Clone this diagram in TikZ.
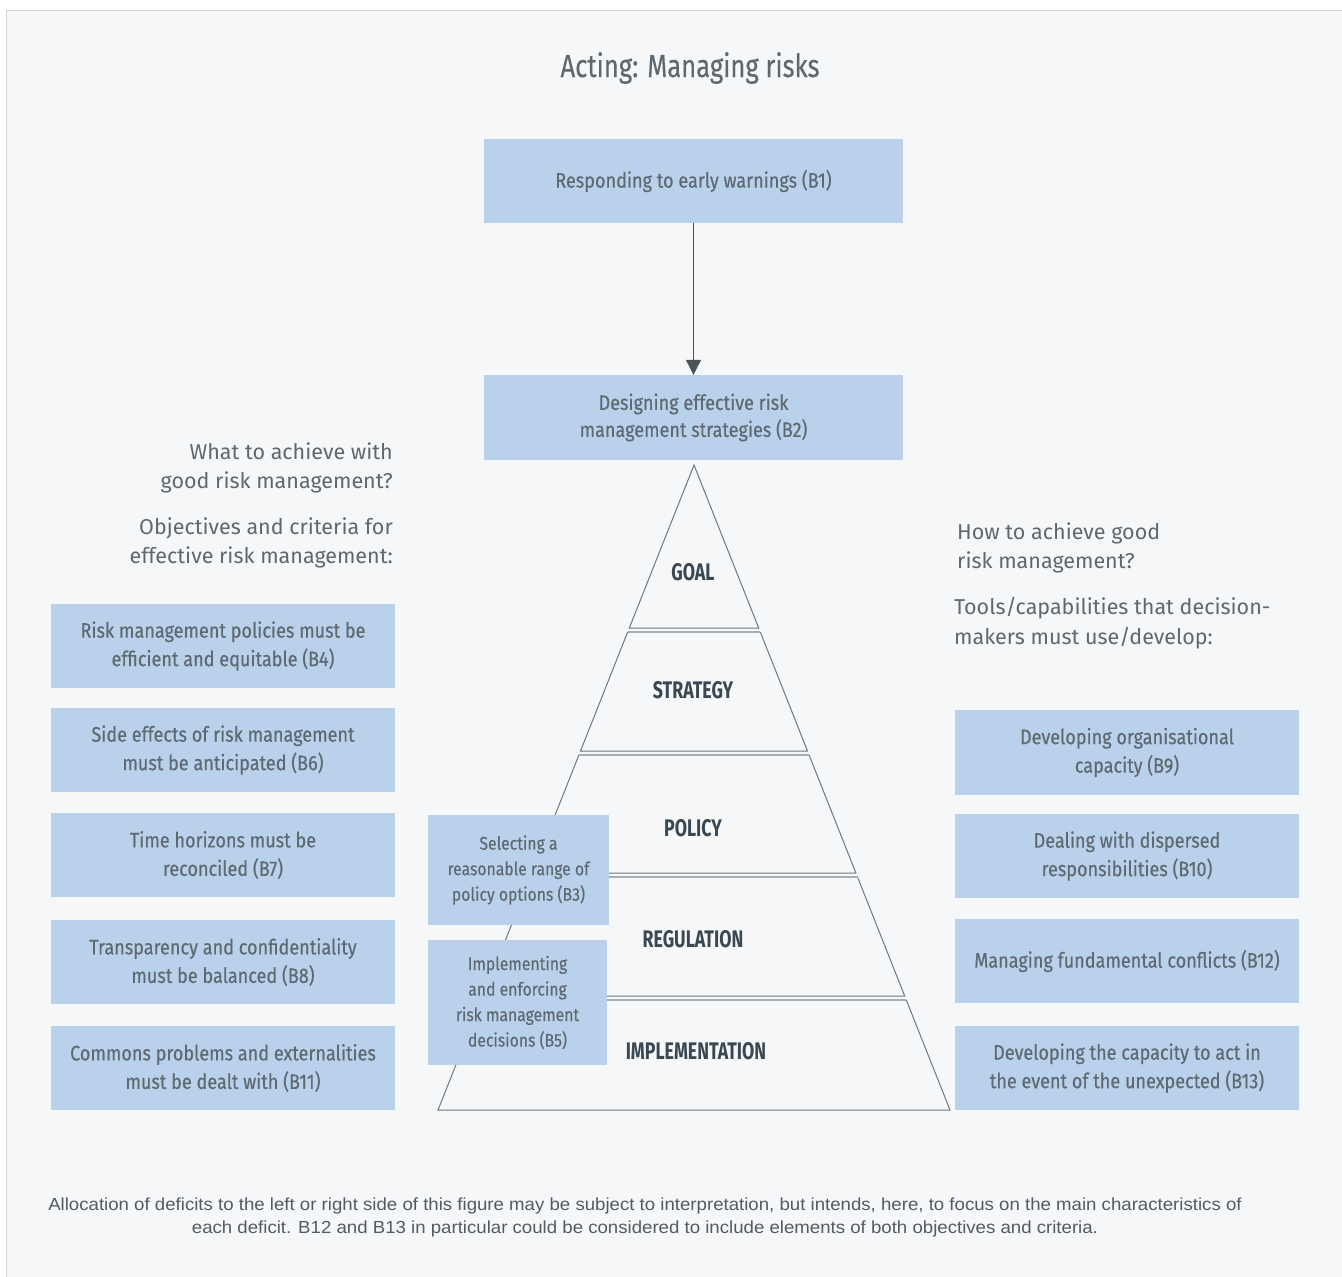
\documentclass[tikz,border=0pt]{standalone}
\usepackage{fontspec}
\setmainfont{Fira Sans}
\newfontfamily\cond{Fira Sans}[FakeStretch=0.86, FakeBold=0.35]
\newfontfamily\titlefont{Fira Sans}[FakeStretch=0.80, FakeBold=0.2]
\newfontfamily\levelfont{Fira Sans}[FakeStretch=0.74]
\newfontfamily\notefont{Liberation Sans}[FakeStretch=1.065]
\usetikzlibrary{arrows.meta}
\definecolor{canvas}{HTML}{F6F7F9}
\definecolor{frame}{HTML}{D3D5D8}
\definecolor{boxblue}{HTML}{B9D1EA}
\definecolor{boxtext}{HTML}{5E6A72}
\definecolor{headtext}{HTML}{5F686F}
\definecolor{leveltext}{HTML}{3A4852}
\definecolor{pyrline}{HTML}{70777D}
\definecolor{pyrtop}{HTML}{A8AFB4}
\definecolor{arrowgray}{HTML}{4A5358}
\definecolor{notetext}{HTML}{555B60}
\tikzset{
  bluebox/.style={fill=boxblue, draw=none, inner sep=2pt, align=center,
    text=boxtext, font=\cond\fontsize{21}{28.5}\selectfont},
  flowbox/.style={bluebox, minimum width=419pt,
    font=\cond\fontsize{21}{27}\selectfont},
  sidebox/.style={bluebox, minimum width=344pt, minimum height=84pt},
  flankbox/.style={bluebox, font=\cond\fontsize{18.3}{25.5}\selectfont},
  header/.style={inner sep=0pt, text=headtext,
    font=\fontsize{21.5}{29.5}\selectfont},
  level/.style={inner sep=0pt, text=leveltext,
    font=\levelfont\bfseries\fontsize{24}{28}\selectfont},
  pyredge/.style={draw=pyrline, line width=1pt, line join=miter},
  pyrtopedge/.style={draw=pyrtop, line width=2pt},
  flow/.style={draw=arrowgray, line width=1.1pt,
    -{Triangle[length=15pt,width=15pt]}}
}
\begin{document}
\begin{tikzpicture}[x=1pt,y=-1pt]
  % canvas and frame
  \useasboundingbox (0,0) rectangle (1342,1277);
  \fill[white] (0,0) rectangle (1342,1277);
  \fill[canvas] (6,10) rectangle (1342,1277);
  \draw[frame, line width=1.5pt] (6.5,1277) -- (6.5,10.5) -- (1342,10.5);

  % title
  \node[inner sep=0pt, text=headtext, font=\titlefont\fontsize{32}{36}\selectfont]
    (title) at (690,68) {Acting: Managing risks};

  % top flow
  \node[flowbox, minimum height=84pt] (b1) at (693.5,181)
    {Responding to early warnings (B1)};
  \node[flowbox, minimum height=85pt] (b2) at (693.5,417.5)
    {Designing effective risk\\management strategies (B2)};
  \draw[flow] (b1.south) -- (b2.north);

  % pyramid levels
  \draw[pyredge] (694,465) -- (758.7,628) -- (629.3,628) -- cycle;
  \draw[pyredge] (627.7,632) -- (580.5,751) -- (807.5,751) -- (760.3,632);
  \draw[pyrtopedge] (627.7,632) -- (760.3,632);
  \draw[pyredge] (578.9,755) -- (532.1,873) -- (855.9,873) -- (809.1,755);
  \draw[pyrtopedge] (578.9,755) -- (809.1,755);
  \draw[pyredge] (530.5,877) -- (483.3,996) -- (904.7,996) -- (857.5,877);
  \draw[pyrtopedge] (530.5,877) -- (857.5,877);
  \draw[pyredge] (481.7,1000) -- (438,1110) -- (950,1110) -- (906.3,1000);
  \draw[pyrtopedge] (481.7,1000) -- (906.3,1000);

  \node[level] (goal) at (693,572) {GOAL};
  \node[level] (strategy) at (693,690) {STRATEGY};
  \node[level] (policy) at (693,828) {POLICY};
  \node[level] (regulation) at (693,939) {REGULATION};
  \node[level] (implementation) at (696,1051) {IMPLEMENTATION};

  % boxes on the pyramid's flank
  \node[flankbox, minimum width=181pt, minimum height=110pt] (b3) at (518.5,870)
    {Selecting a\\reasonable range of\\policy options (B3)};
  \node[flankbox, minimum width=179pt, minimum height=125pt] (b5) at (517.5,1002.5)
    {Implementing\\and enforcing\\risk management\\decisions (B5)};

  % left column: objectives and criteria
  \node[header, align=right, anchor=east] (whatq) at (393,468)
    {What to achieve with\\good risk management?};
  \node[header, align=right, anchor=east] (objectives) at (393,543)
    {Objectives and criteria for\\effective risk management:};
  \node[sidebox] (b4) at (223,646)
    {Risk management policies must be\\efficient and equitable (B4)};
  \node[sidebox] (b6) at (223,750)
    {Side effects of risk management\\must be anticipated (B6)};
  \node[sidebox] (b7) at (223,855)
    {Time horizons must be\\reconciled (B7)};
  \node[sidebox] (b8) at (223,962)
    {Transparency and confidentiality\\must be balanced (B8)};
  \node[sidebox] (b11) at (223,1068)
    {Commons problems and externalities\\must be dealt with (B11)};

  % right column: tools and capabilities
  \node[header, align=left, anchor=west] (howq) at (957,548)
    {How to achieve good\\risk management?};
  \node[header, align=left, anchor=west] (tools) at (954,623)
    {Tools/capabilities that decision-\\makers must use/develop:};
  \node[sidebox, minimum height=85pt] (b9) at (1127,752.5)
    {Developing organisational\\capacity (B9)};
  \node[sidebox] (b10) at (1127,856)
    {Dealing with dispersed\\responsibilities (B10)};
  \node[sidebox] (b12) at (1127,961)
    {Managing fundamental conflicts (B12)};
  \node[sidebox] (b13) at (1127,1068)
    {Developing the capacity to act in\\the event of the unexpected (B13)};

  % footnote
  \node[inner sep=0pt, align=center, text=notetext,
    font=\notefont\fontsize{17.5}{23}\selectfont] (note) at (645,1217)
    {Allocation of deficits to the left or right side of this figure may be subject to interpretation, but intends, here, to focus on the main characteristics of\\each deficit. B12 and B13 in particular could be considered to include elements of both objectives and criteria.};
\end{tikzpicture}
\end{document}
